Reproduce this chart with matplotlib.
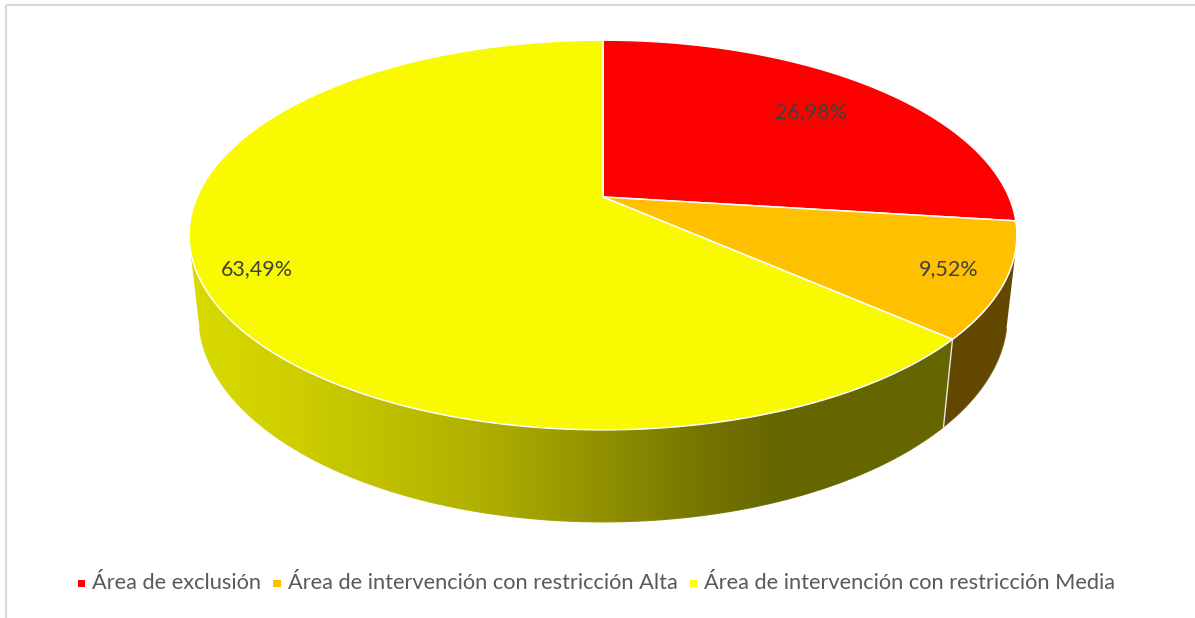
import numpy as np
import matplotlib
matplotlib.use("Agg")
import matplotlib.pyplot as plt
from matplotlib.patches import Polygon, Rectangle
from matplotlib.collections import LineCollection
from matplotlib.colors import to_rgb

# ---------------- data ----------------
categories = ["Área de exclusión",
              "Área de intervención con restricción Alta",
              "Área de intervención con restricción Media"]
values = [26.98, 9.52, 63.49]
value_labels = ["26,98%", "9,52%", "63,49%"]
top_colors = ["#FF0000", "#FFC000", "#F9F900"]
legend_colors = ["#FF0000", "#FFC000", "#FFFF00"]

# ---------------- figure ----------------
W, H = 1195, 618
fig = plt.figure(figsize=(W / 100, H / 100), dpi=100)
ax = fig.add_axes([0, 0, 1, 1])
ax.set_xlim(0, W)
ax.set_ylim(H, 0)
ax.axis("off")

FONT = ["Lato", "DejaVu Sans"]

# chart border (only top & left visible)
ax.plot([6, W + 5], [5, 5], color="#D9D9D9", lw=1.6, solid_capstyle="butt", zorder=0)
ax.plot([6, 6], [5, H + 5], color="#D9D9D9", lw=1.6, solid_capstyle="butt", zorder=0)

# ---------------- 3D perspective projection ----------------
phi = np.radians(27.5)      # tilt
Dist = 4.55                 # camera distance (radius = 1)
focal = 1847.0
thick = 0.2266              # pie thickness
cx, cy = 603.0, 197.0       # screen position of pie centre


def proj(t, z, r=1.0):
    x = r * np.cos(t)
    y = r * np.sin(t)
    Y = y * np.sin(phi) + z * np.cos(phi)
    dep = y * np.cos(phi) - z * np.sin(phi)
    s = focal / (Dist + dep)
    return cx + x * s, cy - Y * s, dep


total = sum(values)
bounds = np.radians(90 - 360 * np.concatenate([[0], np.cumsum(values)]) / total)

# outer wall visible where its normal faces the camera
cam_y = -Dist * np.cos(phi)
t_vis_hi = -np.arcsin(1 / -cam_y)          # about -14 deg
t_vis_lo = -np.pi - t_vis_hi               # about -166 deg


def visible(t):
    return 1 - cam_y * np.sin(t) < 0


def shade(xpix, i):
    """wall colour as a function of screen x (horizontal gradient)"""
    if i == 2:
        gx = [150, 190, 280, 480, 613, 700, 780, 2000]
        gv = [222, 218, 208, 176, 141, 118, 102, 102]
        g = np.interp(xpix, gx, gv) / 255.0
        return np.stack([g, g, np.zeros_like(g)], axis=-1)
    base = {0: "#800000", 1: "#634800"}[i]
    c = np.array(to_rgb(base))
    return np.tile(c, (np.size(xpix), 1))


# ---------------- walls ----------------
for i in range(len(values)):
    a0, a1 = bounds[i], bounds[i + 1]          # a0 > a1 (clockwise)
    # visible range is [t_vis_lo, t_vis_hi]; also wrap slices going below -pi
    for off in (0.0, 2 * np.pi):
        hi = min(a0 + off, t_vis_hi)
        lo = max(a1 + off, t_vis_lo)
        if hi <= lo:
            continue
        ts = np.linspace(hi, lo, 600)
        xt, yt, _ = proj(ts, 0)
        xb, yb, _ = proj(ts, -thick)
        verts = np.concatenate([np.c_[xt, yt], np.c_[xb, yb][::-1]])
        clip = Polygon(verts, closed=True, facecolor="none", edgecolor="none",
                       transform=ax.transData)
        ax.add_patch(clip)
        x0, x1 = verts[:, 0].min() - 2, verts[:, 0].max() + 2
        y0, y1 = verts[:, 1].min() - 2, verts[:, 1].max() + 2
        xs = np.linspace(x0, x1, 800)
        img = shade(xs, i)[None, :, :]
        im = ax.imshow(img, extent=[x0, x1, y1, y0], aspect="auto",
                       interpolation="bilinear", zorder=2)
        im.set_clip_path(clip)
        # smooth the lower edge and the side edges
        segs = np.stack([np.c_[xb[:-1], yb[:-1]], np.c_[xb[1:], yb[1:]]], axis=1)
        lc = LineCollection(segs, colors=shade(0.5 * (xb[:-1] + xb[1:]), i),
                            linewidths=0.8, zorder=2.5)
        ax.add_collection(lc)

ax.set_xlim(0, W)
ax.set_ylim(H, 0)

# light seam on the wall at visible slice boundaries
for b in bounds[1:-1]:
    if visible(b):
        xa, ya, _ = proj(b, 0)
        xb_, yb_, _ = proj(b, -thick)
        ax.plot([xa, xb_], [ya, yb_], color="#E6E6E6", lw=1.0, zorder=3)

# ---------------- top faces ----------------
for i in range(len(values)):
    a0, a1 = bounds[i], bounds[i + 1]
    ts = np.linspace(a0, a1, 400)
    xs, ys, _ = proj(ts, 0)
    pts = [(cx, cy)] + list(zip(xs, ys))
    ax.add_patch(Polygon(pts, closed=True, facecolor=top_colors[i],
                         edgecolor="white", lw=1.1, joinstyle="round", zorder=4))

# ---------------- data labels ----------------
label_r = [0.75, 0.87, 0.87]
for i in range(len(values)):
    tm = 0.5 * (bounds[i] + bounds[i + 1])
    lx, ly, _ = proj(tm, 0, label_r[i])
    ax.text(lx, ly, value_labels[i], ha="center", va="center", fontsize=15.5,
            color="#404040", family=FONT, zorder=6)

# ---------------- legend ----------------
fig.canvas.draw()
rend = fig.canvas.get_renderer()
leg_texts = []
for c in categories:
    t = ax.text(0, 583, c, ha="left", va="center", fontsize=14, color="#595959",
                family=FONT, zorder=6)
    leg_texts.append(t)
widths = [t.get_window_extent(renderer=rend).width for t in leg_texts]
scale = (146 + 424 + 403) / sum(widths)
for t in leg_texts:
    t.set_fontsize(14 * scale)
fig.canvas.draw()
x = 78.0
for i, t in enumerate(leg_texts):
    ax.add_patch(Rectangle((x, 579.5), 7.5, 7.5, facecolor=legend_colors[i],
                           edgecolor="none", zorder=6))
    x += 7.5 + 7
    t.set_x(x)
    x += t.get_window_extent(renderer=rend).width + 12

fig.savefig("out.png", dpi=100)
